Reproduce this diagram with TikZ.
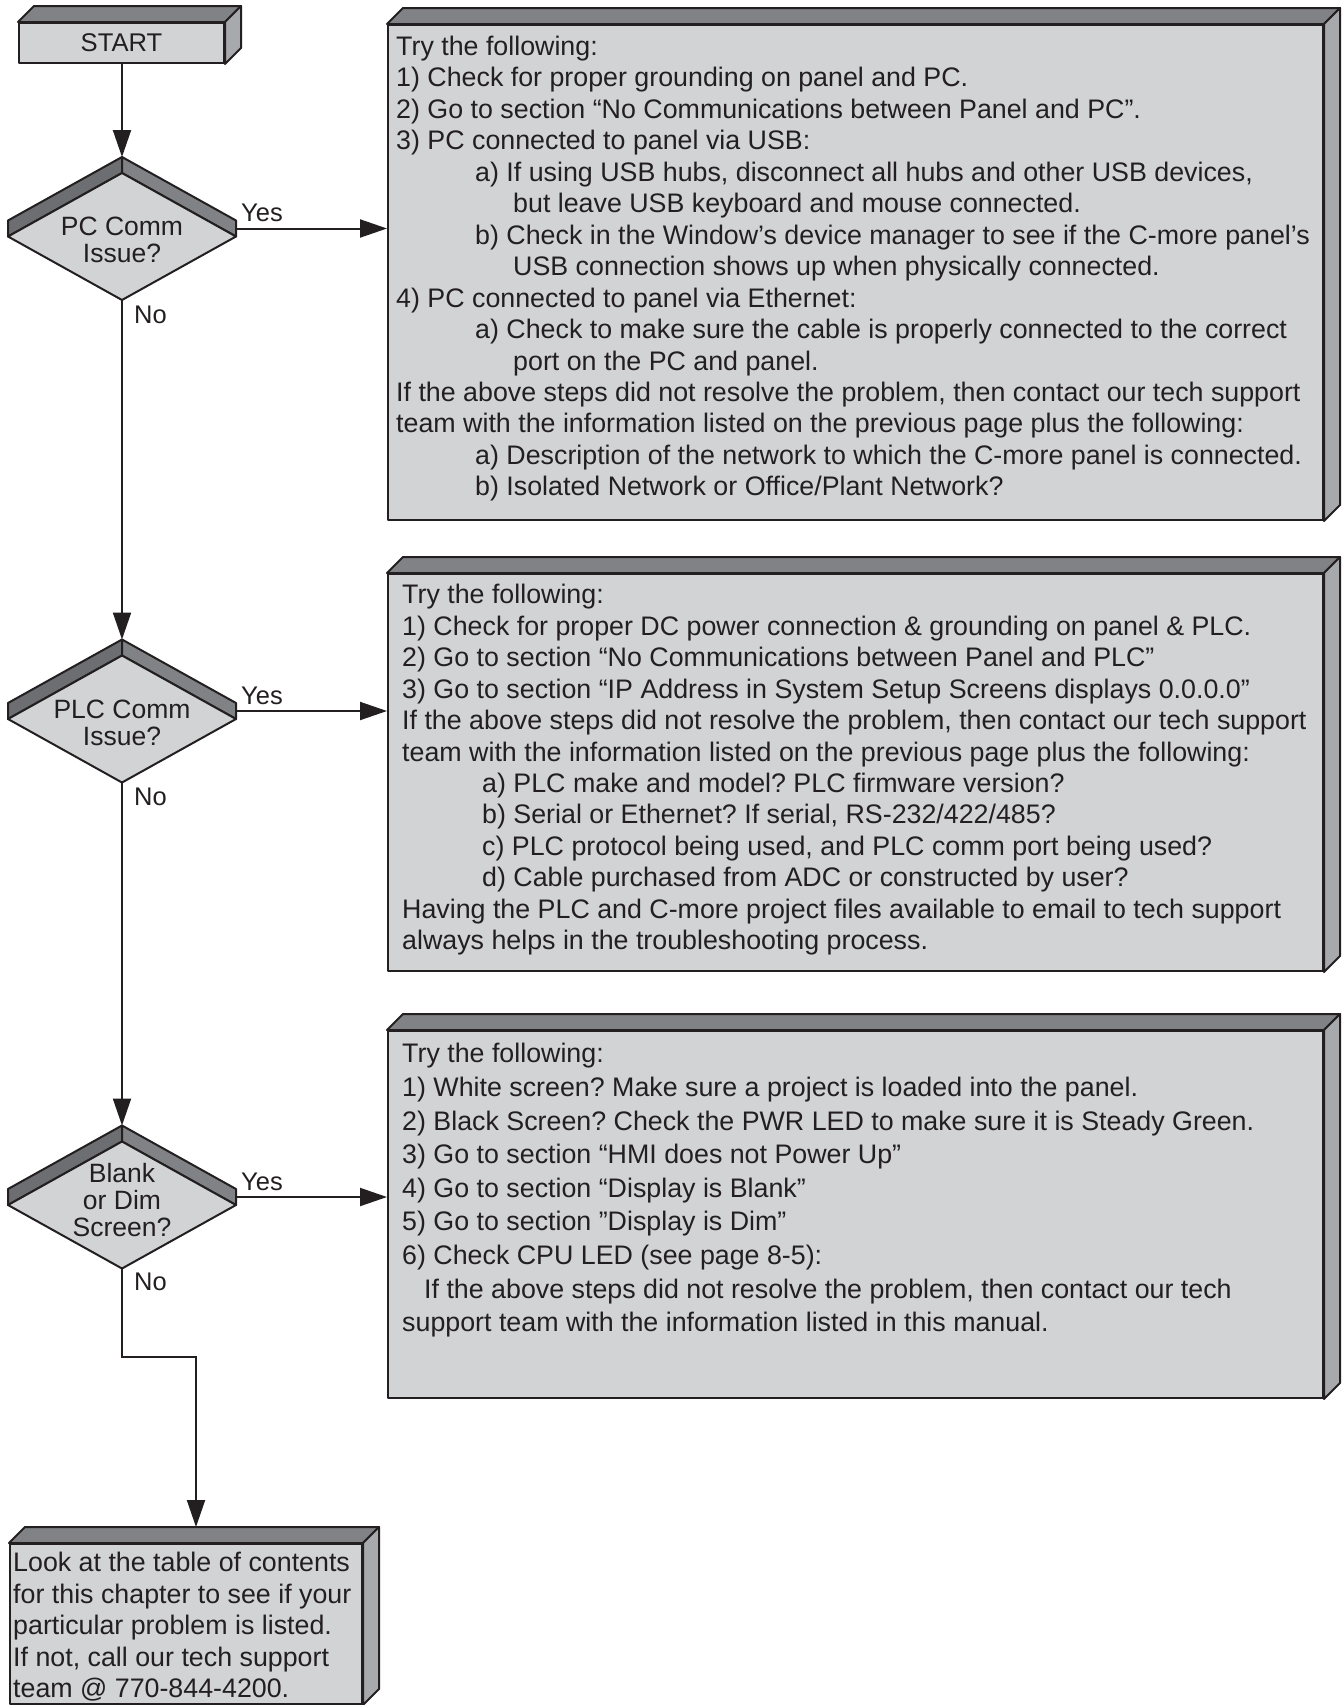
\documentclass[tikz,border=0pt]{standalone}
\usepackage{fontspec}
\setmainfont{Liberation Sans}
\usetikzlibrary{arrows.meta,calc}
\frenchspacing
\definecolor{face}{HTML}{D1D3D4}
\definecolor{topf}{HTML}{808285}
\definecolor{sidef}{HTML}{A7A9AC}
\definecolor{bandl}{HTML}{6D6E71}
\definecolor{bandr}{HTML}{808285}
\definecolor{ink}{HTML}{231F20}
\newcommand\boxfaces[1]{%
  \draw[edge,fill=topf] (#1.north west) -- ++(16,-16) -- ([shift={(16,-16)}]#1.north east) -- (#1.north east) -- cycle;
  \draw[edge,fill=sidef] (#1.north east) -- ++(16,-16) -- ([shift={(16,-16)}]#1.south east) -- (#1.south east) -- cycle;
}
\tikzset{
  edge/.style={draw=ink, line width=2pt, line join=round},
  box3d/.style={edge, fill=face, rectangle, inner sep=0pt, anchor=north west},
  txt/.style={anchor=north west, inner sep=0pt, align=left, text=ink, font=\fontsize{26.8}{31.45}\selectfont},
  dtxt/.style={align=center, inner sep=0pt, text=ink, font=\fontsize{26.5}{27}\selectfont},
  lbl/.style={anchor=base west, inner sep=0pt, text=ink, font=\fontsize{25.5}{28}\selectfont},
  arr/.style={draw=ink, line width=2pt, -{Triangle[length=27pt,width=18pt]}},
  decision/.pic={
    \coordinate (-c) at (0,0);
    \coordinate (-top) at (0,-79.5);
    \coordinate (-south) at (0,63.5);
    \coordinate (-east) at (114,-8);
    \draw[edge,fill=bandl] (-114,0) -- (-114,-16) -- (0,-79.5) -- (0,-63.5) -- cycle;
    \draw[edge,fill=bandr] (0,-79.5) -- (114,-16) -- (114,0) -- (0,-63.5) -- cycle;
    \draw[edge,fill=face] (-114,0) -- (0,-63.5) -- (114,0) -- (0,63.5) -- cycle;
  }
}
\begin{document}
\begin{tikzpicture}[x=1pt,y=-1pt]
\useasboundingbox (0,0) rectangle (1341,1705);

% START
\node[box3d, minimum width=205pt, minimum height=40pt, text=ink, font=\fontsize{25.6}{28}\selectfont] (start) at (18,22) {START};
\boxfaces{start}

% decisions
\pic (d1) at (122,236.5) {decision};
\node[dtxt] (d1t) at (122,240) {PC Comm\\Issue?};
\pic (d2) at (122,719) {decision};
\node[dtxt] (d2t) at (122,723) {PLC Comm\\Issue?};
\pic (d3) at (122,1205) {decision};
\node[dtxt] (d3t) at (122,1200) {Blank\\or Dim\\Screen?};

\node[lbl] (y1) at (241,221.5) {Yes};
\node[lbl] (n1) at (134,323) {No};
\node[lbl] (y2) at (241,704) {Yes};
\node[lbl] (n2) at (134,805) {No};
\node[lbl] (y3) at (241,1190) {Yes};
\node[lbl] (n3) at (134,1290.5) {No};

% boxes
\node[box3d, minimum width=935pt, minimum height=495pt] (b1) at (387,24) {};
\boxfaces{b1}
\node[box3d, minimum width=935pt, minimum height=397pt] (b2) at (387,573) {};
\boxfaces{b2}
\node[box3d, minimum width=935pt, minimum height=367pt] (b3) at (387,1030) {};
\boxfaces{b3}
\node[box3d, minimum width=352pt, minimum height=160pt] (b4) at (9,1543) {};
\boxfaces{b4}

\node[txt] (t1) at (396,33.3) {\strut Try the following:\\
1) Check for proper grounding on panel and PC.\\
2) Go to section “No Communications between Panel and PC”.\\
3) PC connected to panel via USB:\\
\hspace*{79pt}a) If using USB hubs, disconnect all hubs and other USB devices,\\
\hspace*{117pt}but leave USB keyboard and mouse connected.\\
\hspace*{79pt}b) Check in the Window’s device manager to see if the C-more panel’s\\
\hspace*{117pt}USB connection shows up when physically connected.\\
4) PC connected to panel via Ethernet:\\
\hspace*{79pt}a) Check to make sure the cable is properly connected to the correct\\
\hspace*{117pt}port on the PC and panel.\\
If the above steps did not resolve the problem, then contact our tech support\\
team with the information listed on the previous page plus the following:\\
\hspace*{79pt}a) Description of the network to which the C-more panel is connected.\\
\hspace*{79pt}b) Isolated Network or Office/Plant Network?};

\node[txt] (t2) at (402,581.6) {\strut Try the following:\\
1) Check for proper DC power connection \& grounding on panel \& PLC.\\
2) Go to section “No Communications between Panel and PLC”\\
3) Go to section “IP Address in System Setup Screens displays 0.0.0.0”\\
If the above steps did not resolve the problem, then contact our tech support\\
team with the information listed on the previous page plus the following:\\
\hspace*{80pt}a) PLC make and model? PLC firmware version?\\
\hspace*{80pt}b) Serial or Ethernet? If serial, RS-232/422/485?\\
\hspace*{80pt}c) PLC protocol being used, and PLC comm port being used?\\
\hspace*{80pt}d) Cable purchased from ADC or constructed by user?\\
Having the PLC and C-more project files available to email to tech support\\
always helps in the troubleshooting process.};

\node[txt, font=\fontsize{26.8}{33.6}\selectfont] (t3) at (402,1039.1) {\strut Try the following:\\
1) White screen? Make sure a project is loaded into the panel.\\
2) Black Screen? Check the PWR LED to make sure it is Steady Green.\\
3) Go to section “HMI does not Power Up”\\
4) Go to section “Display is Blank”\\
5) Go to section ”Display is Dim”\\
6) Check CPU LED (see page 8-5):\\
\hspace*{22pt}If the above steps did not resolve the problem, then contact our tech\\
support team with the information listed in this manual.};

\node[txt, font=\fontsize{26.8}{31.5}\selectfont] (t4) at (13,1549.5) {\strut Look at the table of contents\\
for this chapter to see if your\\
particular problem is listed.\\
If not, call our tech support\\
team @ 770-844-4200.};

% connectors
\coordinate (bend) at (122,1357);
\coordinate (b4in) at ([shift={(187,-16)}]b4.north west);
\draw[arr] (start.south -| d1-top) -- (d1-top);
\draw[arr] (d1-east) -- (d1-east -| b1.west);
\draw[arr] (d1-south) -- (d2-top);
\draw[arr] (d2-east) -- (d2-east -| b2.west);
\draw[arr] (d2-south) -- (d3-top);
\draw[arr] (d3-east) -- (d3-east -| b3.west);
\draw[arr] (d3-south) -- (bend) -| (b4in);
\end{tikzpicture}
\end{document}
